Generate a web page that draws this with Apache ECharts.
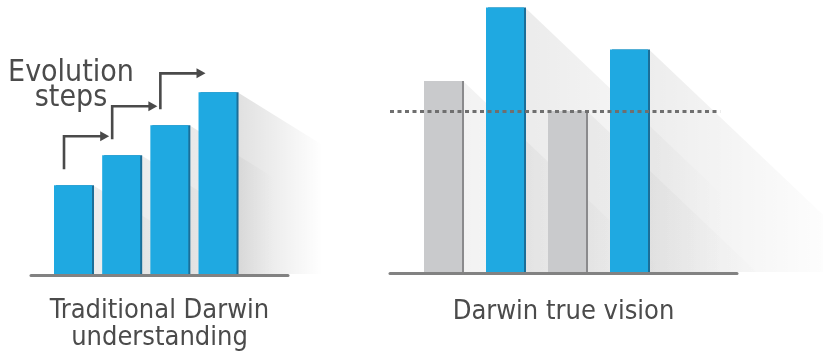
<!DOCTYPE html>
<html>
<head>
<meta charset="utf-8">
<title>Darwin</title>
<script src="https://cdn.jsdelivr.net/npm/echarts@6/dist/echarts.min.js"></script>
<style>
    html, body { margin: 0; padding: 0; background: #fff; }
    #main { width: 823px; height: 356px; }
</style>
</head>
<body>
<div id="main"></div>
<script>
// left panel: four rising steps
const leftSteps = [1, 2, 3, 4];
const leftHeights = [3, 4, 5, 6.1];

// right panel: old (gray) and new (blue) forms
const rightSlots = [1, 2, 3, 4];
const rightHeights = [6.4, 8.85, 5.4, 7.45];
const rightKinds = ['old', 'new', 'old', 'new'];
const thresholdLevel = 5.4;

const leftLabel = 'Traditional Darwin\nunderstanding';
const rightLabel = 'Darwin true vision';
const noteText = 'Evolution\nsteps';

const BLUE = '#1fa9e1';
const BLUE_EDGE = '#1b6e98';
const GRAY = '#c9cacc';
const GRAY_EDGE = '#8a8a8c';
const TEXT = '#4b4b4b';
const FONT = '"DejaVu Sans Condensed", "DejaVu Sans", sans-serif';

let myChart = echarts.init(document.getElementById('main'), null, { renderer: 'canvas' });

function shadowSeries (axisIndex, data, length, slope, alphas) {
    return {
        type: 'custom',
        xAxisIndex: axisIndex,
        yAxisIndex: axisIndex,
        z: 1,
        silent: true,
        data: data,
        renderItem (params, api) {
            const top = api.coord([api.value(0), api.value(1)]);
            const base = api.coord([api.value(0), 0]);
            const xr = top[0] + 20;
            const bottom = base[1] - 1;
            const run = Math.min(length, (bottom - top[1]) / slope);
            const alpha = alphas[params.dataIndex];
            const pts = [
                [xr, top[1]],
                [xr + run, top[1] + run * slope],
                [xr + length, top[1] + run * slope],
                [xr + length, bottom],
                [xr, bottom]
            ];
            return {
                type: 'polygon',
                shape: { points: pts },
                style: {
                    fill: new echarts.graphic.LinearGradient(0, 0, 1, 0, [
                        { offset: 0, color: 'rgba(0,0,0,' + alpha + ')' },
                        { offset: 1, color: 'rgba(0,0,0,0)' }
                    ])
                }
            };
        }
    };
}

const axisBase = {
    type: 'value',
    z: 5,
    splitLine: { show: false },
    axisTick: { show: false },
    axisLabel: { show: false },
    axisLine: { show: true, onZero: false, lineStyle: { color: '#828282', width: 3 } },
    nameLocation: 'middle',
    nameTextStyle: { color: TEXT, fontFamily: FONT, fontSize: 27, lineHeight: 27, verticalAlign: 'top' }
};

myChart.setOption({
    backgroundColor: '#ffffff',
    animation: false,
    grid: [
        { left: 31, right: 535, top: 5.5, bottom: 80.5 },
        { left: 390, right: 86, top: 3, bottom: 83 }
    ],
    xAxis: [
        Object.assign({}, axisBase, { gridIndex: 0, min: 0.128, max: 5.463, name: leftLabel, nameGap: 22 }),
        Object.assign({}, axisBase, { gridIndex: 1, min: 0.145, max: 5.742, name: rightLabel, nameGap: 25 })
    ],
    yAxis: [0, 1].map((i) => ({
        type: 'value',
        gridIndex: i,
        min: 0,
        max: 9,
        show: false
    })),
    graphic: [{
        type: 'text',
        x: 71,
        y: 61,
        z: 10,
        style: {
            text: noteText,
            fill: TEXT,
            fontSize: 30,
            fontFamily: FONT,
            lineHeight: 25,
            align: 'center',
            verticalAlign: 'top'
        }
    }],
    series: [
        shadowSeries(0, leftSteps.map((s, i) => [s, leftHeights[i]]), 85, 0.62, [0.08, 0.08, 0.09, 0.12]),
        shadowSeries(1, rightSlots.map((s, i) => [s, rightHeights[i]]), 200, 0.95, [0.05, 0.08, 0.04, 0.07]),
        {
            type: 'bar',
            xAxisIndex: 0,
            yAxisIndex: 0,
            z: 2,
            barWidth: 38,
            itemStyle: { color: BLUE, shadowColor: BLUE_EDGE, shadowOffsetX: 2, shadowBlur: 0 },
            data: leftSteps.map((s, i) => [s, leftHeights[i]])
        },
        {
            type: 'bar',
            xAxisIndex: 1,
            yAxisIndex: 1,
            z: 2,
            barWidth: 38,
            data: rightSlots.map((s, i) => ({
                value: [s, rightHeights[i]],
                itemStyle: rightKinds[i] === 'new'
                    ? { color: BLUE, shadowColor: BLUE_EDGE, shadowOffsetX: 2, shadowBlur: 0 }
                    : { color: GRAY, shadowColor: GRAY_EDGE, shadowOffsetX: 2, shadowBlur: 0 }
            })),
            markLine: {
                silent: true,
                symbol: 'none',
                z: 4,
                label: { show: false },
                lineStyle: { color: '#6f6f6f', width: 3, type: [4, 3.5], cap: 'butt' },
                data: [[{ coord: [0.145, thresholdLevel] }, { coord: [5.47, thresholdLevel] }]]
            }
        },
        {
            // step arrows from each bar to the next one
            type: 'custom',
            xAxisIndex: 0,
            yAxisIndex: 0,
            z: 3,
            silent: true,
            data: leftSteps.slice(0, -1).map((s, i) => [s, leftHeights[i]]),
            renderItem (params, api) {
                const i = params.dataIndex;
                const from = api.coord([leftSteps[i], leftHeights[i]]);
                const to = api.coord([leftSteps[i + 1], leftHeights[i + 1]]);
                const x0 = from[0] - 9;
                const y0 = from[1] - 16;
                const y1 = to[1] - 19;
                const tip = to[0] - 12;
                return {
                    type: 'group',
                    children: [{
                        type: 'polyline',
                        shape: { points: [[x0, y0], [x0, y1], [tip - 7, y1]] },
                        style: { stroke: '#4a4a4a', lineWidth: 2.6, fill: null, lineJoin: 'miter' }
                    }, {
                        type: 'polygon',
                        shape: { points: [[tip - 9, y1 - 5], [tip, y1], [tip - 9, y1 + 5]] },
                        style: { fill: '#4a4a4a' }
                    }]
                };
            }
        }
    ]
});
</script>
</body>
</html>
